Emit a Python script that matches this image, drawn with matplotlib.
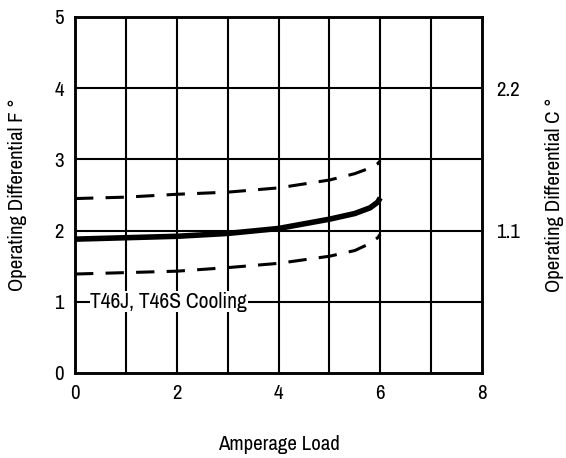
import matplotlib.pyplot as plt

plt.rcParams['font.family'] = ['Archivo Narrow', 'Roboto Condensed', 'DejaVu Sans']

# amperage load
amps = [0, 1, 2, 3, 4, 5, 5.5, 5.8, 5.95, 6]
# operating differential (F) - nominal and limits
nominal = [1.88, 1.90, 1.92, 1.96, 2.03, 2.16, 2.24, 2.32, 2.40, 2.46]
upper = [2.45, 2.47, 2.51, 2.54, 2.60, 2.71, 2.80, 2.88, 2.94, 2.98]
lower = [1.39, 1.41, 1.43, 1.48, 1.54, 1.64, 1.72, 1.82, 1.90, 1.95]

xticks = [0, 2, 4, 6, 8]
yticks = [0, 1, 2, 3, 4, 5]
c_ticks = [2, 4]
c_labels = ['1.1', '2.2']

fig = plt.figure(figsize=(5.66, 4.58), dpi=100)
ax = fig.add_axes([75/566, 1 - 373/458, 407/566, 356/458])

ax.set_xlim(0, 8)
ax.set_ylim(0, 5)
for v in range(1, 8):
    ax.axvline(v, color='k', lw=1.5, zorder=1)
for v in range(1, 5):
    ax.axhline(v, color='k', lw=1.5, zorder=1)

ax.plot(amps, nominal, color='k', lw=4, solid_capstyle='butt', zorder=3)
ax.plot(amps, upper, color='k', lw=2.2, dashes=(6, 4), zorder=3)
ax.plot(amps, lower, color='k', lw=2.2, dashes=(6, 4), zorder=3)

ax.text(0.3, 1, 'T46J, T46S Cooling', fontsize=15.5, va='center', ha='left',
        bbox=dict(facecolor='white', edgecolor='none', pad=0.5), zorder=4)

ax.set_xticks(xticks)
ax.set_yticks(yticks)
ax.tick_params(length=0, labelsize=15, pad=8)
for s in ax.spines.values():
    s.set_linewidth(1.8)

ax.set_xlabel('Amperage Load', fontsize=15, labelpad=23)
ax.set_ylabel('Operating Differential F °', fontsize=15, va='center')
ax.yaxis.set_label_coords(-0.141, 0.5)

ax2 = ax.twinx()
ax2.set_ylim(0, 5)
ax2.set_yticks(c_ticks)
ax2.set_yticklabels(c_labels)
ax2.tick_params(length=0, labelsize=15, pad=10)
ax2.set_ylabel('Operating Differential C °', fontsize=15, va='center')
ax2.yaxis.set_label_coords(1.178, 0.5)
for s in ax2.spines.values():
    s.set_linewidth(1.8)

fig.savefig('out.png', dpi=100)
